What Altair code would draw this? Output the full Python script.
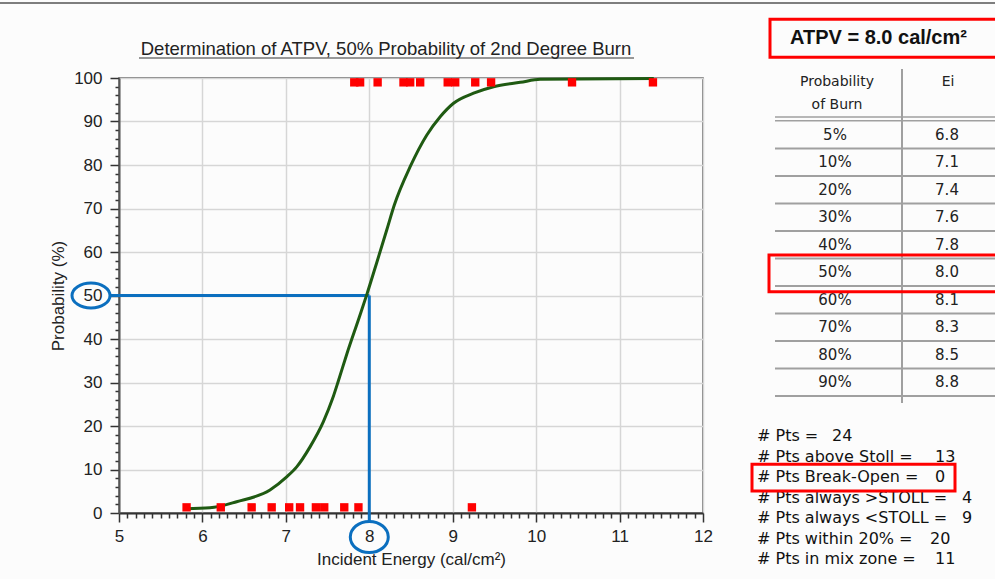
import altair as alt
import pandas as pd

# ---------------- data ----------------
curve_energy = [5.80, 6.09, 6.41, 6.81, 7.01, 7.13, 7.29, 7.45, 7.56, 7.63, 7.73, 7.88,
                7.97, 8.09, 8.21, 8.30, 8.49, 8.69, 8.85, 9.01, 9.25, 9.49, 9.81, 10.05, 11.41]
curve_prob = [1.0, 1.2, 2.6, 5.3, 8.3, 10.6, 15.2, 21.0, 26.3, 30.4, 36.5, 45.0,
              50.2, 57.6, 65.1, 70.8, 79.6, 86.9, 91.1, 94.2, 96.5, 98.0, 99.0, 99.7, 99.9]

burn_energy = [7.82, 7.89, 8.10, 8.41, 8.49, 8.61, 8.94, 9.03, 9.27, 9.46, 10.43, 11.40]
burn_prob = [99] * len(burn_energy)
noburn_energy = [5.81, 6.22, 6.59, 6.83, 7.04, 7.17, 7.36, 7.46, 7.70, 7.87, 9.23]
noburn_prob = [1.3] * len(noburn_energy)

pct_labels = ["5%", "10%", "20%", "30%", "40%", "50%", "60%", "70%", "80%", "90%"]
ei_values = ["6.8", "7.1", "7.4", "7.6", "7.8", "8.0", "8.1", "8.3", "8.5", "8.8"]

stat_labels = ["# Pts =", "# Pts above Stoll =", "# Pts Break-Open =",
               "# Pts always >STOLL =", "# Pts always <STOLL =",
               "# Pts within 20% =", "# Pts in mix zone ="]
stat_values = ["24", "13", "0", "4", "9", "20", "11"]

# ---------------- layout (pixels, relative to plot origin) ----------------
W, H = 584, 435
stat_value_px = [713, 816, 816, 843, 843, 811, 816]

FONT = "Liberation Sans"
TFONT = "DejaVu Sans"
BLUE = "#0b6fbf"
RED = "#ff0000"
GRIDC = "#d6d6d6"

x_ticks = [round(5 + i * 0.1, 1) for i in range(71)]
y_ticks = list(range(0, 101, 2))

is_int_x = "abs(datum.value - round(datum.value)) < 0.001"
is_major_y = "datum.value % 10 == 0"

x_axis = alt.Axis(
    values=x_ticks, tickCount=200,
    labelExpr=f"{is_int_x} ? format(datum.value, 'd') : ''",
    labelOverlap=False, labelFlush=False,
    labelFont=FONT, labelFontSize=17, labelColor="#222", labelPadding=6,
    tickSize={"condition": {"test": is_int_x, "value": 9}, "value": 5},
    tickColor="#333", tickWidth=1.5,
    grid=True, gridColor=GRIDC, gridWidth=1.5,
    gridOpacity={"condition": {"test": is_int_x, "value": 1}, "value": 0},
    domainColor="#333", domainWidth=2,
    title="Incident Energy (cal/cm²)", titleFont=FONT, titleFontSize=17,
    titleFontWeight="normal", titleColor="#222", titlePadding=7,
)
y_axis = alt.Axis(
    values=y_ticks, tickCount=200,
    labelExpr=f"{is_major_y} ? format(datum.value, 'd') : ''",
    labelOverlap=False, labelFlush=False,
    labelFont=FONT, labelFontSize=17, labelColor="#222", labelPadding=8,
    tickSize={"condition": {"test": is_major_y, "value": 9}, "value": 4},
    tickColor="#333", tickWidth=1.5,
    grid=True, gridColor=GRIDC, gridWidth=1.5,
    gridOpacity={"condition": {"test": is_major_y, "value": 1}, "value": 0},
    domainColor="#555", domainWidth=2,
    title="Probability (%)", titleFont=FONT, titleFontSize=17,
    titleFontWeight="normal", titleColor="#222", titlePadding=6,
)

xs = alt.Scale(domain=[5, 12], nice=False, zero=False)
ys = alt.Scale(domain=[0, 100], nice=False)

curve_df = pd.DataFrame({"energy": curve_energy, "prob": curve_prob})
pts_df = pd.DataFrame({
    "energy": burn_energy + noburn_energy,
    "prob": burn_prob + noburn_prob,
})

curve = alt.Chart(curve_df).mark_line(
    interpolate="monotone", color="#1f5a12", strokeWidth=3
).encode(
    x=alt.X("energy:Q", scale=xs, axis=x_axis),
    y=alt.Y("prob:Q", scale=ys, axis=y_axis),
)
points = alt.Chart(pts_df).mark_square(
    size=70, color=RED, opacity=1
).encode(
    x=alt.X("energy:Q", scale=xs, axis=x_axis),
    y=alt.Y("prob:Q", scale=ys, axis=y_axis),
)

one = pd.DataFrame({"_": [0]})
hline = alt.Chart(one).mark_rule(color=BLUE, strokeWidth=3).encode(
    x=alt.datum(8), x2=alt.value(-9), y=alt.datum(50))
vline = alt.Chart(one).mark_rule(color=BLUE, strokeWidth=3).encode(
    x=alt.datum(8), y=alt.datum(50), y2=alt.value(443))

ell50 = alt.Chart(one).mark_point(
    shape="M -1 0 A 1 0.66 0 1 1 1 0 A 1 0.66 0 1 1 -1 0 Z",
    size=38 * 38, filled=False, stroke=BLUE, strokeWidth=3, opacity=1,
).encode(x=alt.value(-28), y=alt.datum(50))
ell8 = alt.Chart(one).mark_point(
    shape="M -1 0 A 1 0.82 0 1 1 1 0 A 1 0.82 0 1 1 -1 0 Z",
    size=38 * 38, filled=False, stroke=BLUE, strokeWidth=3, opacity=1,
).encode(x=alt.datum(8), y=alt.value(459))

main = alt.layer(hline, vline, curve, points, ell50, ell8)

# ---------------- table ----------------
tab_df = pd.DataFrame({"pct": pct_labels, "ei": ei_values})
row_y = alt.Y("pct:N", scale=alt.Scale(type="point", domain=pct_labels,
                                       range=[43, 318], padding=0.5), axis=None)
tab_pct = alt.Chart(tab_df).mark_text(
    font=TFONT, fontSize=15, color="#222", align="center", baseline="middle"
).encode(x=alt.value(716), y=row_y, text="pct:N")
tab_ei = alt.Chart(tab_df).mark_text(
    font=TFONT, fontSize=15, color="#222", align="center", baseline="middle"
).encode(x=alt.value(828), y=row_y, text="ei:N")
tab_lines = alt.Chart(tab_df).mark_rule(
    color="#a0a0a0", strokeWidth=2, yOffset=13.75
).encode(x=alt.value(656), x2=alt.value(880), y=row_y)
table = alt.layer(tab_lines, tab_pct, tab_ei)

# ---------------- stats ----------------
st_df = pd.DataFrame({"lab": stat_labels, "val": stat_values, "vx": stat_value_px})
st_y = alt.Y("lab:N", scale=alt.Scale(type="point", domain=stat_labels,
                                      range=[358, 481.3], padding=0), axis=None)
st_lab = alt.Chart(st_df).mark_text(
    font=TFONT, fontSize=16, color="#111", align="left", baseline="middle"
).encode(x=alt.value(638), y=st_y, text="lab:N")
st_val = alt.Chart(st_df).mark_text(
    font=TFONT, fontSize=16, color="#111", align="left", baseline="middle"
).encode(x=alt.X("vx:Q", scale=None, axis=None), y=st_y, text="val:N")
stats = alt.layer(st_lab, st_val)

# ---------------- annotations ----------------
def txt(s, x, y, **kw):
    return alt.Chart(one).mark_text(text=s, **kw).encode(x=alt.value(x), y=alt.value(y))

def box(x1, y1, x2, y2, color=RED, w=3):
    return alt.Chart(one).mark_rect(fill=None, fillOpacity=0, stroke=color, strokeWidth=w).encode(
        x=alt.value(x1), x2=alt.value(x2), y=alt.value(y1), y2=alt.value(y2))

def rule(x1, y1, x2, y2, color="#a0a0a0", w=2):
    return alt.Chart(one).mark_rule(color=color, strokeWidth=w).encode(
        x=alt.value(x1), x2=alt.value(x2), y=alt.value(y1), y2=alt.value(y2))

annot = alt.layer(
    rule(-119, -75, 880, -75, color="#555", w=1.5),
    txt("Determination of ATPV, 50% Probability of 2nd Degree Burn", 267, -23,
        font=FONT, fontSize=18.5, color="#222", align="center", baseline="alphabetic"),
    rule(20, -20, 515, -20, color="#333", w=1.2),
    box(651, -58.7, 881, -20.7),
    txt("ATPV = 8.0 cal/cm²", 671, -40, font=FONT, fontSize=20, fontWeight="bold",
        color="#111", align="left", baseline="middle"),
    txt("Probability", 718, 4, font=TFONT, fontSize=14, color="#222", align="center", baseline="middle"),
    txt("of Burn", 718, 27, font=TFONT, fontSize=14, color="#222", align="center", baseline="middle"),
    txt("Ei", 829, 4, font=TFONT, fontSize=14, color="#222", align="center", baseline="middle"),
    rule(783, -9, 783, 325),
    rule(656, 39, 880, 39, w=1.5),
    rule(656, 42.7, 880, 42.7, w=1.5),
    box(650, 177, 881, 213.7),
    box(633, 386.3, 836, 413),
)

chart = alt.layer(main, table, stats, annot).resolve_scale(
    x="independent", y="independent"
).properties(
    width=W, height=H,
    padding={"left": 119, "top": 78, "right": 292, "bottom": 66},
    autosize=alt.AutoSizeParams(type="none"),
    background="#fcfcfc",
).configure_view(stroke="#555", strokeWidth=1.5)

chart.save("out.html", embed_options={"renderer": "svg", "actions": False})
